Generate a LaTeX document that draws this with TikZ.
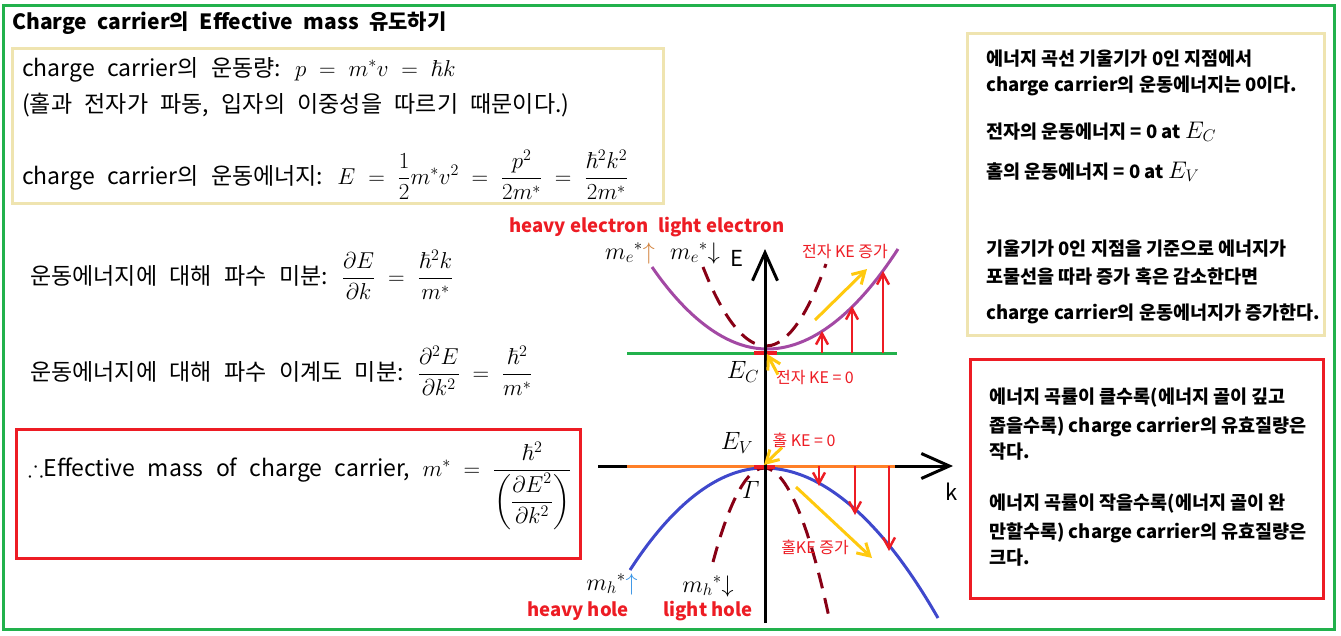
\RequirePackage{fix-cm}
\documentclass[tikz,border=0pt]{standalone}
\usepackage{amsmath,amssymb}
\usepackage[no-math]{fontspec}
\newfontfamily\kr{Noto Sans CJK KR}
\usepackage{xcolor}
\definecolor{frameGreen}{HTML}{22B14C}
\definecolor{markRed}{HTML}{ED1C24}
\definecolor{noteBeige}{HTML}{EFE4B0}
\definecolor{bandPurple}{HTML}{A349A4}
\definecolor{bandBlue}{HTML}{3F48CC}
\definecolor{bandOrange}{HTML}{FF7F27}
\definecolor{hintYellow}{HTML}{FFC90E}
\definecolor{lightDark}{HTML}{880015}
\definecolor{upBrown}{HTML}{D2823C}
\definecolor{upBlue}{HTML}{3C96E6}
\usepackage{tikz}
\usetikzlibrary{positioning,arrows.meta}
\thickmuskip=10mu plus 5mu
\medmuskip=5mu plus 2mu
\newcommand\wideSpace[1]{\spaceskip=#1\relax}
\tikzset{%
  noteBox/.style={%
    rectangle,
    draw=noteBeige,
    line width=3pt,
    outer sep=0pt,
    anchor=north west
  },
  keyBox/.style={%
    noteBox,
    draw=markRed
  },
  titleText/.style={%
    font=\kr\bfseries\fontsize{21}{24}\selectfont\wideSpace{0.5em},
    anchor=base west,
    inner sep=0pt
  },
  bodyText/.style={%
    font=\kr\fontsize{23}{28}\selectfont\wideSpace{0.54em},
    anchor=base west,
    inner sep=0pt
  },
  noteText/.style={%
    font=\kr\bfseries\fontsize{18.5}{22}\selectfont,
    anchor=base west,
    inner sep=0pt
  },
  bandLabel/.style={%
    font=\kr\bfseries\fontsize{18.5}{22}\selectfont,
    text=markRed,
    inner sep=0pt
  },
  keLabel/.style={%
    font=\kr\fontsize{16}{18}\selectfont,
    text=markRed,
    inner sep=0pt
  },
  levelLabel/.style={%
    font=\fontsize{25}{28}\selectfont,
    inner sep=0pt
  },
  massLabel/.style={%
    font=\fontsize{24}{28}\selectfont,
    inner sep=0pt
  },
  bandCurve/.style={%
    line width=3pt
  },
  lightBand/.style={%
    bandCurve,
    draw=lightDark,
    dash pattern=on 16pt off 10pt
  },
  keArrow/.style={%
    -{Straight Barb[length=11pt,width=12pt]},
    line width=2.5pt,
    draw=markRed
  },
  hintArrow/.style={%
    -{Straight Barb[length=12pt,width=14pt]},
    line width=3pt,
    draw=hintYellow
  },
  axisLine/.style={%
    -{Straight Barb[length=28pt,width=25pt]},
    line width=3pt
  }
}

\begin{document}
\begin{tikzpicture}[x=1pt,y=-1pt]
  \useasboundingbox (0,0) rectangle (1341,635);
  \node[noteBox, draw=frameGreen, minimum width=1331pt, minimum height=624pt] (frame) at (3,5) {};
  \node[titleText] (title) at (12,29) {Charge carrier의 Effective mass 유도하기};

  % momentum and kinetic energy
  \node[noteBox, minimum width=651pt, minimum height=155pt] (momentumBox) at (12,48) {};
  \node[bodyText] (momentum) at (22,76) {charge carrier의 운동량: $p = m^{*}v = \hbar k$};
  \node[bodyText] (duality) at (22,112) {(홀과 전자가 파동, 입자의 이중성을 따르기 때문이다.)};
  \node[bodyText] (kinetic) at (22,184)
    {charge carrier의 운동에너지: $E = \dfrac{1}{2}m^{*}v^{2} = \dfrac{p^{2}}{2m^{*}} = \dfrac{\hbar^{2}k^{2}}{2m^{*}}$};
  \node[bodyText] (firstDeriv) at (30,284)
    {운동에너지에 대해 파수 미분: $\dfrac{\partial E}{\partial k} = \dfrac{\hbar^{2}k}{m^{*}}$};
  \node[bodyText] (secondDeriv) at (30,380)
    {운동에너지에 대해 파수 이계도 미분: $\dfrac{\partial^{2}E}{\partial k^{2}} = \dfrac{\hbar^{2}}{m^{*}}$};

  \node[keyBox, minimum width=564pt, minimum height=129pt] (massBox) at (16,429) {};
  \node[bodyText] (massResult) at (28,476)
    {$\therefore$Effective mass of charge carrier, $m^{*} = \dfrac{\hbar^{2}}{\left(\dfrac{\partial E^{2}}{\partial k^{2}}\right)}$};

  % conduction band
  \draw[line width=3pt, frameGreen] (627,353) -- (897,353);
  \draw[bandCurve, bandPurple] (652,267) parabola bend (767,349) (898,249);
  \draw[lightBand] (703,267) parabola bend (766,346) (826,264);
  \draw[line width=4pt, markRed] (754,353) -- (777,353);
  \foreach \kx/\ky in {822/331, 852/306, 883/271}
    \draw[keArrow] (\kx,353) -- (\kx,\ky);

  % valence band
  \draw[axisLine] (598,466) -- (953,466);
  \draw[line width=3pt, bandOrange] (627,466) -- (895,466);
  \draw[bandCurve, bandBlue] (630,570) parabola bend (764,468) (938,618);
  \draw[lightBand] (713,562) parabola bend (764,468) (830,622);
  \draw[line width=4pt, markRed] (754,467) -- (775,467);
  \foreach \kx/\ky in {819/486, 855/515, 889/551}
    \draw[keArrow] (\kx,466) -- (\kx,\ky);

  \draw[axisLine] (765,623) -- (765,249);
  \node[font=\kr\fontsize{22}{24}\selectfont, inner sep=0pt] (eAxis) at (737,258) {E};
  \node[font=\kr\fontsize{22}{24}\selectfont, inner sep=0pt] (kAxis) at (952,492) {k};

  \node[levelLabel] (ecLabel) at (743,372) {$E_{C}$};
  \node[levelLabel] (evLabel) at (737,443) {$E_{V}$};
  \node[levelLabel] (gammaLabel) at (751,490) {$\mathit{\Gamma}$};

  \node[keLabel] (keZeroE) at (815,378) {전자 KE = 0};
  \node[keLabel] (keZeroH) at (804,440) {홀 KE = 0};
  \node[keLabel] (keUpE) at (845,252) {전자 KE 증가};
  \node[keLabel] (keUpH) at (815,547) {홀KE 증가};
  \coordinate (ecPoint) at (767,354);
  \coordinate (evPoint) at (764,465);
  \draw[hintArrow] ([xshift=2pt,yshift=-4pt]keZeroE.north west) -- (ecPoint);
  \draw[hintArrow] ([xshift=-22pt]keZeroH.south) -- (evPoint);
  \coordinate (electronTail) at (815,320);
  \coordinate (electronHead) at (867,269);
  \coordinate (holeTail) at (796,487);
  \coordinate (holeHead) at (872,558);
  \draw[hintArrow] (electronTail) -- (electronHead);
  \draw[hintArrow] (holeTail) -- (holeHead);

  \node[bandLabel] (heavyElectron) at (579,227) {heavy electron};
  \node[bandLabel, right=9pt of heavyElectron] (lightElectron) {light electron};
  \node[massLabel] (meHeavy) at (630,253) {$m_{e}{}^{*}{\textcolor{upBrown}{\uparrow}}$};
  \node[massLabel] (meLight) at (695,253) {$m_{e}{}^{*}{\downarrow}$};
  \node[massLabel] (mhHeavy) at (612,584) {$m_{h}{}^{*}{\textcolor{upBlue}{\uparrow}}$};
  \node[massLabel] (mhLight) at (708,586) {$m_{h}{}^{*}{\downarrow}$};
  \node[bandLabel] (heavyHole) at (578,611) {heavy hole};
  \node[bandLabel] (lightHole) at (708,611) {light hole};

  % notes on the right
  \node[noteBox, minimum width=357pt, minimum height=302pt] (zeroNote) at (967,33) {};
  \node[noteText] (zeroA) at (986,65) {에너지 곡선 기울기가 0인 지점에서};
  \node[noteText] (zeroB) at (986,91) {charge carrier의 운동에너지는 0이다.};
  \node[noteText] (zeroC) at (986,138) {전자의 운동에너지 = 0 at {\fontsize{24}{26}\selectfont$E_{C}$}};
  \node[noteText] (zeroD) at (986,178) {홀의 운동에너지 = 0 at {\fontsize{24}{26}\selectfont$E_{V}$}};
  \node[noteText] (zeroE) at (986,255) {기울기가 0인 지점을 기준으로 에너지가};
  \node[noteText] (zeroF) at (986,283) {포물선을 따라 증가 혹은 감소한다면};
  \node[noteText] (zeroG) at (986,319) {charge carrier의 운동에너지가 증가한다.};

  \node[keyBox, minimum width=353pt, minimum height=239pt] (curveNote) at (970,359) {};
  \node[noteText] (curveA) at (989,403) {에너지 곡률이 클수록(에너지 골이 깊고};
  \node[noteText] (curveB) at (989,432) {좁을수록) charge carrier의 유효질량은};
  \node[noteText] (curveC) at (989,458) {작다.};
  \node[noteText] (curveD) at (989,509) {에너지 곡률이 작을수록(에너지 골이 완};
  \node[noteText] (curveE) at (989,538) {만할수록) charge carrier의 유효질량은};
  \node[noteText] (curveF) at (989,564) {크다.};
\end{tikzpicture}
\end{document}
